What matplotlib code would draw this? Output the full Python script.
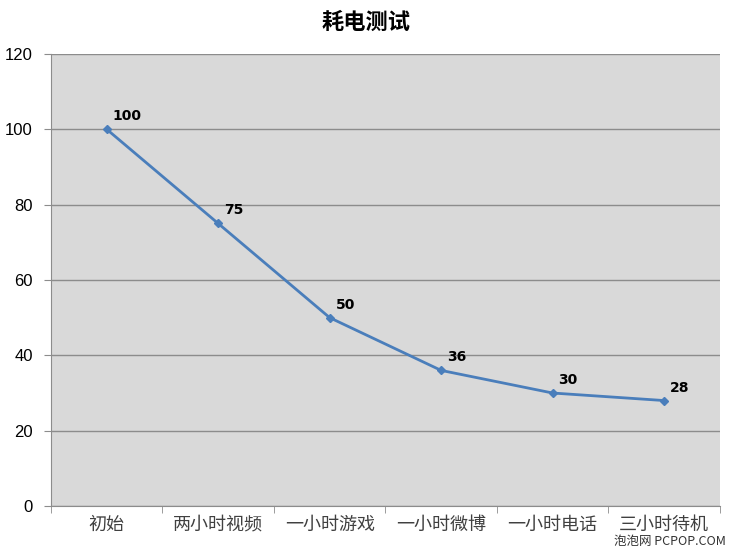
import matplotlib
matplotlib.use("Agg")
import matplotlib.pyplot as plt
import numpy as np

plt.rcParams['font.family'] = ['Noto Sans CJK SC', 'DejaVu Sans']

title = "耗电测试"
categories = ["初始", "两小时视频", "一小时游戏", "一小时微博", "一小时电话", "三小时待机"]
values = [100, 75, 50, 36, 30, 28]
yticks = [0, 20, 40, 60, 80, 100, 120]

fig = plt.figure(figsize=(7.3, 5.48), dpi=100)
ax = fig.add_axes([0.0699, 0.0766, 0.9161, 0.8249])
ax.set_facecolor('#d9d9d9')

x = np.arange(len(categories))
ax.plot(x, values, color='#4a7ebb', lw=2, marker='D', ms=4, zorder=3)
for xi, v in zip(x, values):
    ax.annotate(str(v), (xi, v), xytext=(6, 6), textcoords='offset pixels',
                fontsize=10, fontweight='bold', ha='left', va='bottom',
                family=['DejaVu Sans'])

ax.set_xlim(-0.5, len(categories) - 0.5)
ax.set_ylim(0, 120)
ax.set_yticks(yticks)
ax.set_yticklabels([str(t) for t in yticks], fontsize=12, family=['Liberation Sans', 'DejaVu Sans'])
ax.yaxis.grid(True, color='#8c8c8c', lw=1)
ax.set_axisbelow(True)

ax.set_xticks(x)
ax.set_xticklabels(categories, fontsize=13, color='#404040')
ax.set_xticks(np.arange(-0.5, len(categories)), minor=True)
ax.tick_params(axis='x', which='major', length=0, pad=7)
ax.tick_params(axis='x', which='minor', length=5, color='#8c8c8c')
ax.tick_params(axis='y', length=5, color='#8c8c8c', pad=8)

for s in ['top', 'right']:
    ax.spines[s].set_visible(False)
for s in ['left', 'bottom']:
    ax.spines[s].set_color('#8c8c8c')

fig.text(0.501, 0.96, title, ha='center', va='center', fontsize=16, fontweight='bold')
fig.text(0.995, 0.0, "泡泡网 PCPOP.COM", ha='right', va='bottom', fontsize=9, color='#333333')

fig.savefig("out.png", dpi=100, facecolor='white')
